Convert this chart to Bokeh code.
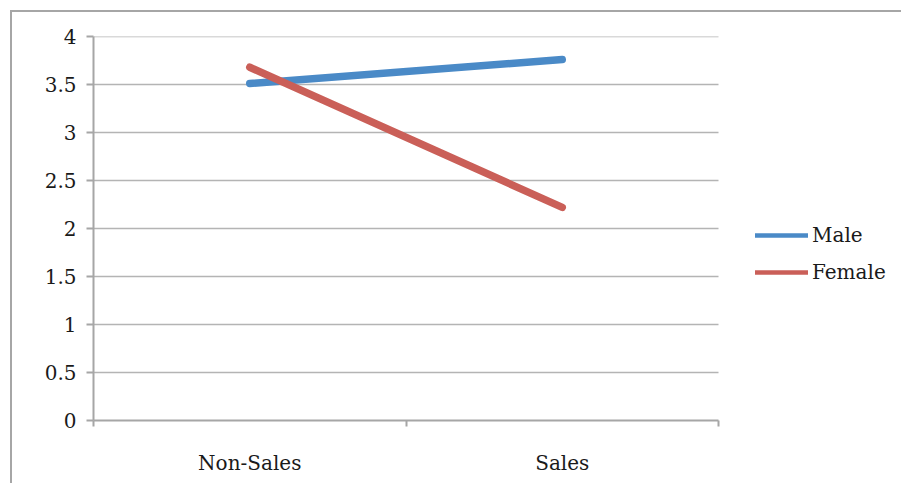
from bokeh.plotting import figure
from bokeh.models import FixedTicker, Legend, LegendItem, Range1d
from bokeh.embed import file_html
from bokeh.resources import INLINE

# Mean scores by department and gender
categories = ["Non-Sales", "Sales"]
male = [3.51, 3.76]
female = [3.68, 2.22]
y_ticks = [0, 0.5, 1, 1.5, 2, 2.5, 3, 3.5, 4]
y_tick_labels = ["0", "0.5", "1", "1.5", "2", "2.5", "3", "3.5", "4"]

FONT = "DejaVu Serif"
GRID = "#b4b4b4"
AXIS = "#a6a6a6"
BLUE = "#4A8AC7"
RED = "#CA5F58"

n = len(categories)
cat_pos = [i + 0.5 for i in range(n)]

# The frame runs on to the right edge so the legend can sit beside the
# plotted area; axis and gridlines stop at the last category boundary.
PLOT_W = 625
FRAME_W = 810
x_end = n * FRAME_W / PLOT_W

p = figure(width=891, height=473, output_backend="svg", toolbar_location=None,
           x_range=Range1d(0, x_end), y_range=Range1d(0, 4),
           min_border_left=81, min_border_right=0, min_border_top=24,
           min_border_bottom=65, margin=(10, 0, 0, 10))
p.styles = {"border-top": "2px solid #a6a6a6", "border-left": "2px solid #a6a6a6"}
p.outline_line_color = None
p.background_fill_color = "white"
p.border_fill_color = "white"

# x axis: category names centred, ticks between categories
xa = p.xaxis[0]
xa.bounds = (0, n)
xa.ticker = FixedTicker(ticks=cat_pos, minor_ticks=list(range(n + 1)))
xa.major_label_overrides = {c: s for c, s in zip(cat_pos, categories)}
xa.major_tick_out = 0
xa.major_tick_in = 0
xa.minor_tick_out = 6
xa.minor_tick_in = 0
xa.minor_tick_line_color = AXIS
xa.minor_tick_line_width = 2
xa.axis_line_color = AXIS
xa.axis_line_width = 2
xa.major_label_text_font = FONT
xa.major_label_text_font_size = "20px"
xa.major_label_text_color = "#1a1a1a"
xa.major_label_standoff = 24

ya = p.yaxis[0]
ya.ticker = FixedTicker(ticks=y_ticks)
ya.major_label_overrides = {t: s for t, s in zip(y_ticks, y_tick_labels)}
ya.major_tick_out = 7
ya.major_tick_in = 0
ya.minor_tick_line_color = None
ya.major_tick_line_color = AXIS
ya.major_tick_line_width = 2
ya.axis_line_color = AXIS
ya.axis_line_width = 2
ya.major_label_text_font = FONT
ya.major_label_text_font_size = "20px"
ya.major_label_text_color = "#1a1a1a"
ya.major_label_standoff = 10

p.xgrid.grid_line_color = None
p.ygrid.grid_line_color = None

# horizontal gridlines across the category span only
p.segment(x0=0, x1=n, y0=y_ticks[1:], y1=y_ticks[1:], line_color=GRID, line_width=1.6)

# slimmer copies of each series, hidden under the main lines, give the
# legend its thinner swatches
sw_male = p.line(cat_pos, male, line_color=BLUE, line_width=4.5, line_cap="round")
sw_female = p.line(cat_pos, female, line_color=RED, line_width=4.5, line_cap="round")

p.line(cat_pos, male, line_color=BLUE, line_width=7.5, line_cap="round")
p.line(cat_pos, female, line_color=RED, line_width=7.5, line_cap="round")

legend = Legend(items=[LegendItem(label="Male", renderers=[sw_male]),
                       LegendItem(label="Female", renderers=[sw_female])],
                location=(662, 136))
legend.border_line_color = None
legend.background_fill_alpha = 0
legend.padding = 0
legend.margin = 0
legend.spacing = 13
legend.glyph_width = 53
legend.glyph_height = 24
legend.label_height = 24
legend.label_standoff = 4
legend.label_text_font = FONT
legend.label_text_font_size = "20px"
legend.label_text_color = "#1a1a1a"
p.add_layout(legend, "center")

open("out.html", "w").write(file_html(p, INLINE))
